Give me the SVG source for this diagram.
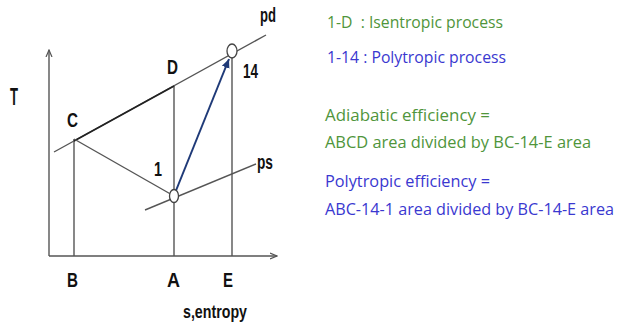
<svg xmlns="http://www.w3.org/2000/svg" width="621" height="332" viewBox="0 0 621 332">
<style>
.ln{stroke:#555;stroke-width:1.4;fill:none}
.lbl{font-family:"Liberation Sans",Arial,sans-serif;font-weight:bold;font-size:20px;fill:#111}
.rt{font-family:"Open Sans","DejaVu Sans",sans-serif;font-size:16px}
.g{fill:#4f953b}
.b{fill:#3a38d0}
</style>
<defs>
<marker id="ax" markerWidth="8" markerHeight="8" refX="7" refY="4" orient="auto" markerUnits="userSpaceOnUse">
<path d="M0,1 L7,4 L0,7" fill="none" stroke="#555" stroke-width="1.2"/>
</marker>
<marker id="bl" markerWidth="10" markerHeight="10" refX="9" refY="5" orient="auto" markerUnits="userSpaceOnUse">
<path d="M0,1 L9,5 L0,9 Z" fill="#1f3a78"/>
</marker>
</defs>
<rect width="621" height="332" fill="#fff"/>
<g id="connectors">
<line class="ln" x1="49" y1="256" x2="49" y2="50" marker-end="url(#ax)"/>
<line class="ln" x1="49" y1="256" x2="277" y2="256" marker-end="url(#ax)"/>
<line class="ln" x1="74" y1="139" x2="74" y2="256"/>
<line class="ln" x1="174" y1="86" x2="174" y2="256"/>
<line class="ln" x1="232" y1="52" x2="232" y2="256"/>
<line class="ln" x1="54" y1="152" x2="266" y2="35"/>
<line x1="74" y1="141" x2="174" y2="86" stroke="#222" stroke-width="1.7"/>
<line class="ln" x1="74" y1="139" x2="174" y2="196"/>
<line class="ln" x1="145" y1="210" x2="256" y2="164"/>
<line x1="175" y1="193" x2="229" y2="59" stroke="#1f3a78" stroke-width="2" marker-end="url(#bl)"/>
</g>
<g id="node-1"><ellipse cx="174" cy="196" rx="4.5" ry="6.5" fill="#fff" stroke="#444" stroke-width="1.3"/></g>
<g id="node-14"><ellipse cx="232" cy="51" rx="5" ry="7" fill="#fff" stroke="#444" stroke-width="1.3"/></g>
<g id="labels">
<text class="lbl" x="10" y="105" textLength="8" lengthAdjust="spacingAndGlyphs" style="font-size:23px">T</text>
<text class="lbl" x="67" y="127" textLength="11" lengthAdjust="spacingAndGlyphs">C</text>
<text class="lbl" x="167" y="74" textLength="11" lengthAdjust="spacingAndGlyphs">D</text>
<text class="lbl" x="243" y="78" textLength="15" lengthAdjust="spacingAndGlyphs">14</text>
<text class="lbl" x="154" y="176" textLength="8" lengthAdjust="spacingAndGlyphs">1</text>
<text class="lbl" x="260" y="22" textLength="16" lengthAdjust="spacingAndGlyphs">pd</text>
<text class="lbl" x="257" y="169" textLength="16" lengthAdjust="spacingAndGlyphs">ps</text>
<text class="lbl" x="67" y="287" textLength="11" lengthAdjust="spacingAndGlyphs">B</text>
<text class="lbl" x="167" y="287" textLength="13" lengthAdjust="spacingAndGlyphs">A</text>
<text class="lbl" x="223" y="287" textLength="10" lengthAdjust="spacingAndGlyphs">E</text>
<text class="lbl" x="183" y="318" textLength="64" lengthAdjust="spacingAndGlyphs" style="font-size:19px">s,entropy</text>
</g>
<g id="notes">
<text class="rt g" x="327" y="28" textLength="176" lengthAdjust="spacingAndGlyphs">1-D&#160; : Isentropic process</text>
<text class="rt b" x="327" y="63" textLength="179" lengthAdjust="spacingAndGlyphs">1-14 : Polytropic process</text>
<text class="rt g" x="325" y="121" textLength="165" lengthAdjust="spacingAndGlyphs">Adiabatic efficiency =</text>
<text class="rt g" x="325" y="148" textLength="266" lengthAdjust="spacingAndGlyphs">ABCD area divided by BC-14-E area</text>
<text class="rt b" x="325" y="187" textLength="165" lengthAdjust="spacingAndGlyphs">Polytropic efficiency =</text>
<text class="rt b" x="325" y="215" textLength="289" lengthAdjust="spacingAndGlyphs">ABC-14-1 area divided by BC-14-E area</text>
</g>
</svg>
